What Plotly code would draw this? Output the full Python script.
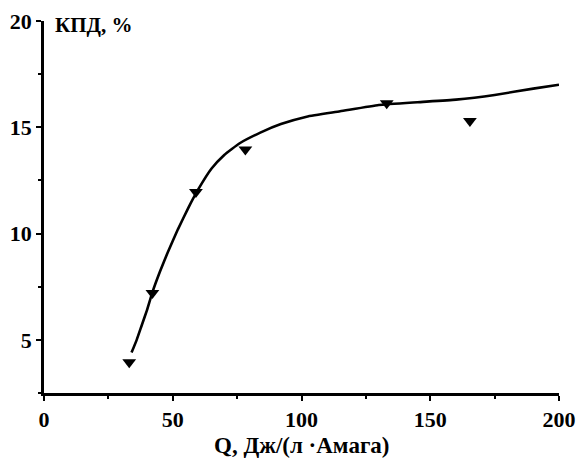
import plotly.graph_objects as go

# Measured efficiency points
q_points = [33.1, 42.1, 59.0, 78.2, 133.1, 165.4]
eff_points = [3.95, 7.2, 11.95, 13.95, 16.13, 15.3]

# Smoothed trend curve
q_curve = [34, 36, 38, 40, 42, 45, 48, 52, 56, 60, 65, 70, 76, 84, 92,
           102, 115, 130, 145, 160, 175, 190, 200]
eff_curve = [4.4, 5.0, 5.7, 6.4, 7.2, 8.2, 9.1, 10.2, 11.2, 12.1, 13.05, 13.7,
             14.25, 14.75, 15.15, 15.5, 15.75, 16.05, 16.18, 16.3, 16.52, 16.82, 17.0]

x_ticks = [0, 50, 100, 150, 200]
y_ticks = [5, 10, 15, 20]

FONT = "Liberation Serif, Times New Roman, serif"

fig = go.Figure()
fig.add_trace(go.Scatter(
    x=q_curve, y=eff_curve, mode="lines",
    line=dict(color="black", width=2.6, shape="spline", smoothing=0.4),
    hoverinfo="skip", showlegend=False,
))
fig.add_trace(go.Scatter(
    x=q_points, y=eff_points, mode="markers",
    marker=dict(symbol="triangle-down", size=12, color="black",
                line=dict(width=0)),
    showlegend=False,
))

axis_common = dict(
    showgrid=False, zeroline=False, automargin=False,
    showline=True, linecolor="black", linewidth=2.5,
    ticks="outside", ticklen=5, tickwidth=2, tickcolor="black",
    tickfont=dict(family=FONT, size=22, color="black"),
)

fig.update_xaxes(
    range=[0, 200], tickvals=x_ticks,
    ticktext=[f"<b>{v}</b>" for v in x_ticks], **axis_common,
    minor=dict(ticks="outside", ticklen=3, tickwidth=2, tickcolor="black",
               dtick=25, tick0=0, showgrid=False),
)
fig.update_yaxes(
    range=[2.5, 20], tickvals=y_ticks,
    ticktext=[f"<b>{v}</b>" for v in y_ticks], **axis_common,
    minor=dict(ticks="outside", ticklen=3, tickwidth=2, tickcolor="black",
               dtick=2.5, tick0=0, showgrid=False),
)

fig.add_annotation(
    text="<b>КПД, %</b>", xref="paper", yref="paper", x=0.018, y=0.99,
    xanchor="left", yanchor="middle", showarrow=False,
    font=dict(family=FONT, size=21, color="black"),
)
fig.add_annotation(
    text="<b>Q, Дж/(л ·Амага)</b>", xref="paper", yref="paper", x=0.5, y=-0.142,
    xanchor="center", yanchor="middle", showarrow=False,
    font=dict(family=FONT, size=23, color="black"),
)

fig.update_layout(
    width=579, height=461,
    margin=dict(l=44, r=20, t=21, b=68),
    plot_bgcolor="white", paper_bgcolor="white",
    font=dict(family=FONT, color="black"),
)

fig.write_html("out.html")
